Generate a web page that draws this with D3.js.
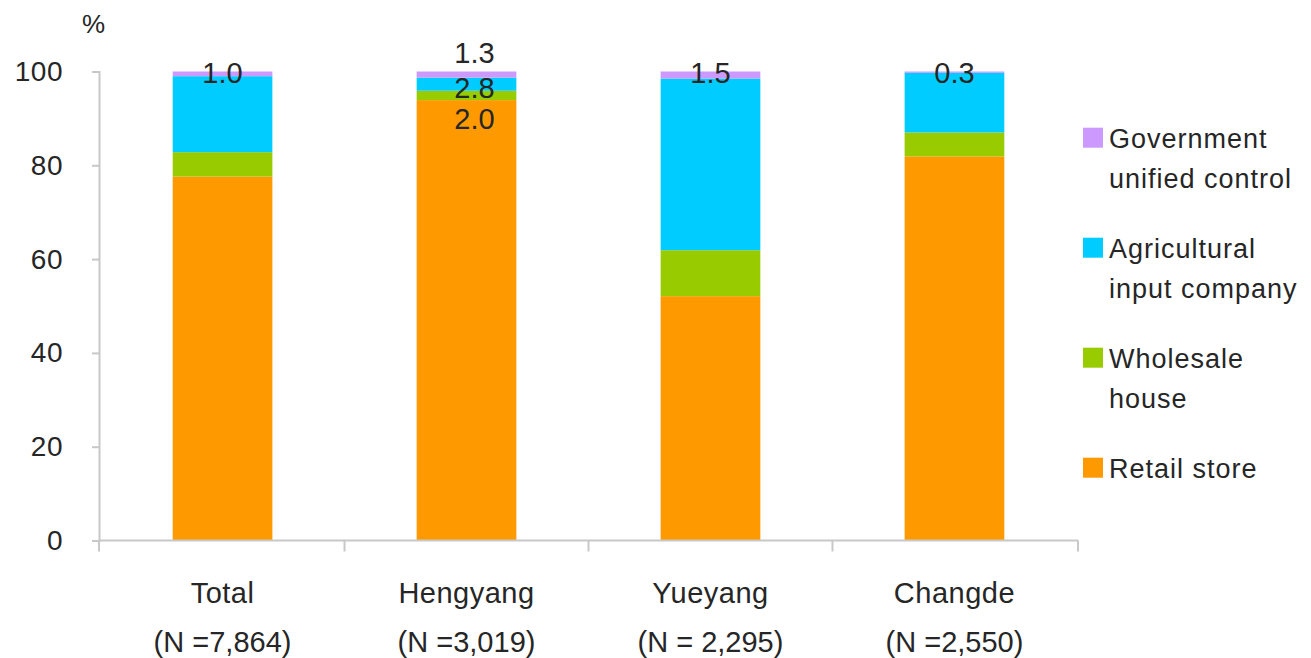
<!DOCTYPE html>
<html>
<head>
<meta charset="utf-8">
<script src="https://cdn.jsdelivr.net/npm/d3@7/dist/d3.min.js"></script>
<style>
  html, body { margin: 0; padding: 0; background: #fff; }
  svg { display: block; font-family: "Liberation Sans", Arial, sans-serif; }
</style>
</head>
<body>
<svg id="chart" width="1311" height="658"></svg>
<script>
// Purchase channel shares by region (%)
const categories = ["Total", "Hengyang", "Yueyang", "Changde"];
const sampleSizes = ["(N =7,864)", "(N =3,019)", "(N = 2,295)", "(N =2,550)"];
const seriesNames = ["Retail store", "Wholesale house", "Agricultural input company", "Government unified control"];
const legendLines = [["Retail store"], ["Wholesale", "house"], ["Agricultural", "input company"], ["Government", "unified control"]];
const retailStore   = [77.6, 93.9, 52.1, 81.9];
const wholesale     = [5.2, 2.0, 9.8, 5.1];
const agriCompany   = [16.2, 2.8, 36.6, 12.7];
const government    = [1.0, 1.3, 1.5, 0.3];
const yTicks = [0, 20, 40, 60, 80, 100];

const colors = ["#FF9900", "#99CC00", "#00CCFF", "#CC99FF"];
const textColor = "#262626";
const axisColor = "#C8C8C8";

const rows = categories.map((c, i) => ({
  cat: c,
  "Retail store": retailStore[i],
  "Wholesale house": wholesale[i],
  "Agricultural input company": agriCompany[i],
  "Government unified control": government[i]
}));

const svg = d3.select("#chart");
const plotLeft = 99, plotRight = 1078, plotTop = 71.5, plotBottom = 540.5;

const x = d3.scaleBand().domain(categories).range([plotLeft, plotRight])
  .paddingInner(0.5914).paddingOuter(0.302);
const y = d3.scaleLinear().domain([0, 100]).range([plotBottom, plotTop]);

const stack = d3.stack().keys(seriesNames);
const layers = stack(rows);

// stacked bars
svg.append("g").selectAll("g").data(layers).join("g")
  .attr("fill", (d, i) => colors[i])
  .selectAll("rect").data(d => d).join("rect")
  .attr("x", d => x(d.data.cat))
  .attr("width", x.bandwidth())
  .attr("y", d => y(d[1]))
  .attr("height", d => y(d[0]) - y(d[1]));

// y axis
const yAxis = d3.axisLeft(y).tickValues(yTicks).tickSize(7).tickPadding(29);
const gy = svg.append("g").attr("transform", `translate(${plotLeft},0)`).call(yAxis);
gy.select(".domain").attr("stroke", axisColor).attr("stroke-width", 2);
gy.selectAll(".tick line").attr("stroke", axisColor).attr("stroke-width", 2);
gy.selectAll(".tick text").attr("fill", textColor)
  .style("font-size", "28px").style("letter-spacing", "0.5px")
  .style("font-family", "Liberation Sans, Arial, sans-serif");

// x axis baseline and separators at category boundaries
const step = x.step();
const half = step * x.paddingInner() / 2;
const bounds = [plotLeft]
  .concat(categories.slice(1).map(c => x(c) - half))
  .concat([plotRight]);
svg.append("line").attr("x1", plotLeft).attr("x2", plotRight).attr("y1", y(0)).attr("y2", y(0))
  .attr("stroke", axisColor).attr("stroke-width", 2);
svg.append("g").selectAll("line").data(bounds).join("line")
  .attr("x1", d => d).attr("x2", d => d)
  .attr("y1", y(0)).attr("y2", y(0) + 11)
  .attr("stroke", axisColor).attr("stroke-width", 2);

// category labels
const cx = c => x(c) + x.bandwidth() / 2;
svg.append("g").selectAll("text").data(categories).join("text")
  .attr("x", d => cx(d)).attr("y", 603)
  .attr("text-anchor", "middle").attr("fill", textColor)
  .style("font-size", "29px").style("letter-spacing", "0.5px")
  .text(d => d);
svg.append("g").selectAll("text").data(categories).join("text")
  .attr("x", d => cx(d)).attr("y", 652)
  .attr("text-anchor", "middle").attr("fill", textColor)
  .style("font-size", "29px")
  .text((d, i) => sampleSizes[i]);

// unit label
svg.append("text").attr("x", 82).attr("y", 33).attr("fill", textColor)
  .style("font-size", "26px").text("%");

// value labels on small segments; Hengyang labels are spread out vertically
const labelSpec = [
  { cat: "Total", val: government[0], cy: 72 },
  { cat: "Hengyang", val: government[1], cy: 51.5, dx: 8 },
  { cat: "Hengyang", val: agriCompany[1], cy: 87, dx: 8 },
  { cat: "Hengyang", val: wholesale[1], cy: 118, dx: 8 },
  { cat: "Yueyang", val: government[2], cy: 72 },
  { cat: "Changde", val: government[3], cy: 72 }
];
svg.append("g").selectAll("text").data(labelSpec).join("text")
  .attr("x", d => cx(d.cat) + (d.dx || 0))
  .attr("y", d => d.cy + 11)
  .attr("text-anchor", "middle").attr("fill", textColor)
  .style("font-size", "29px")
  .text(d => d3.format(".1f")(d.val));

// legend (top entry = top of stack)
const legendTops = [457.7, 347.7, 237.7, 127.7];
const lg = svg.append("g").selectAll("g").data(seriesNames).join("g")
  .attr("transform", (d, i) => `translate(1083,${legendTops[i]})`);
lg.append("rect").attr("width", 20).attr("height", 20).attr("fill", (d, i) => colors[i]);
lg.each(function(d, i) {
  const g = d3.select(this);
  legendLines[i].forEach((line, j) => {
    g.append("text").attr("x", 26).attr("y", 20 + j * 40)
      .attr("fill", textColor)
      .style("font-size", "27px").style("letter-spacing", "1px")
      .text(line);
  });
});
</script>
</body>
</html>
